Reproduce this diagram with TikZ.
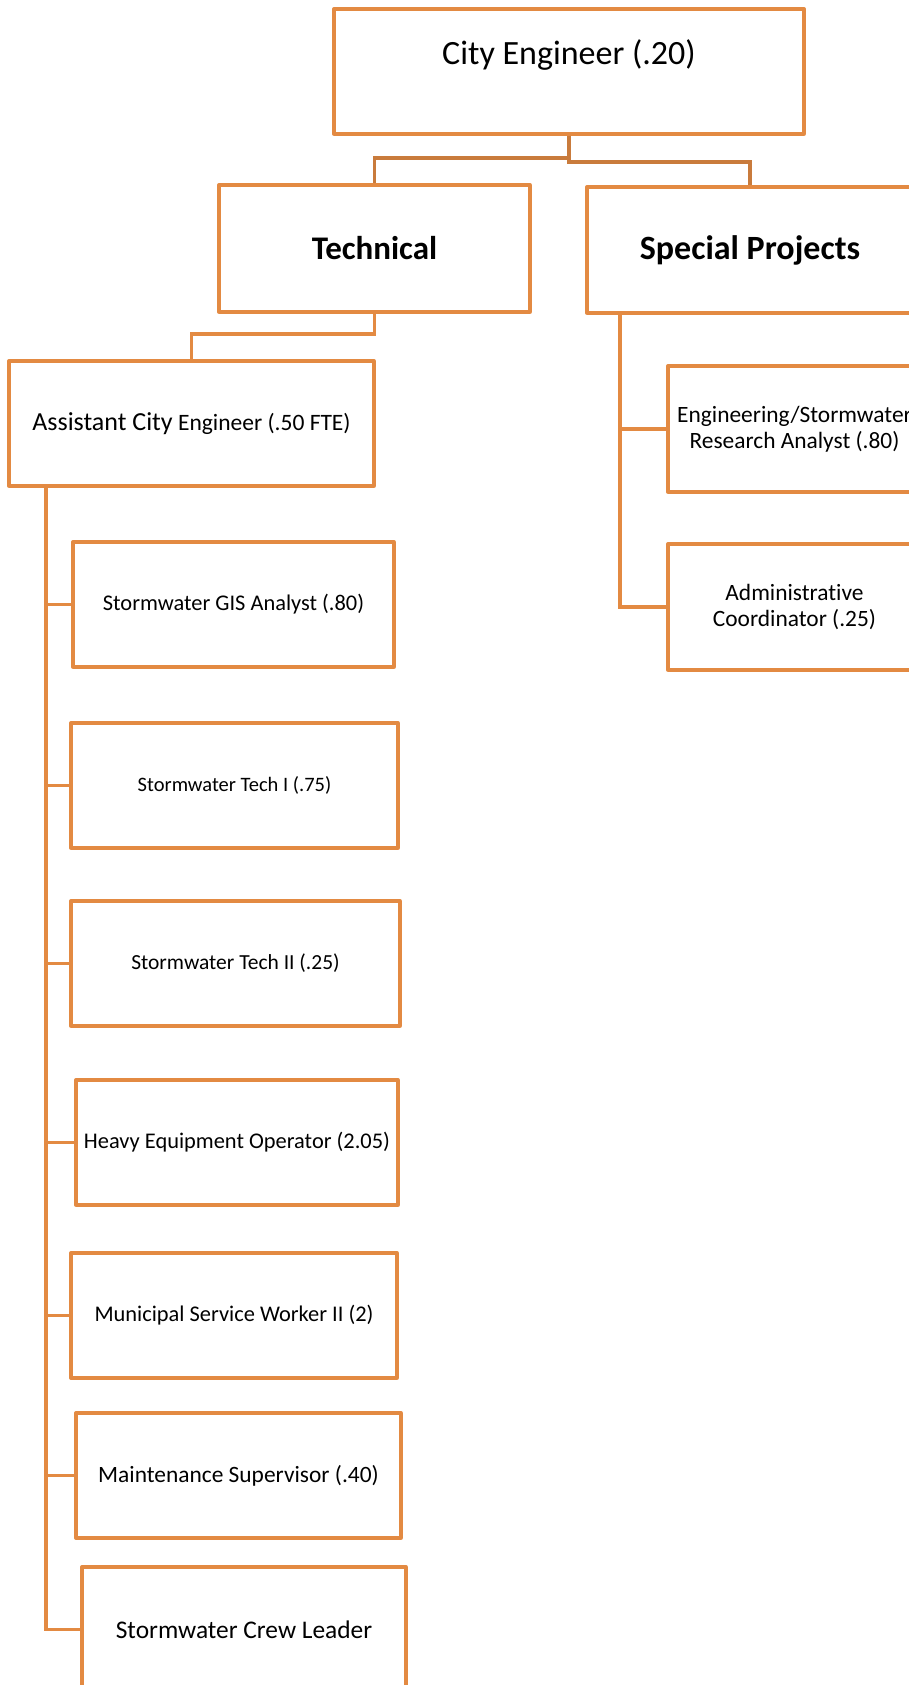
\documentclass[tikz,border=0pt]{standalone}
\usepackage{fontspec}
\setmainfont{Carlito}[Ligatures={NoCommon,NoContextual}]
\usepackage{tikz}

\definecolor{boxorange}{RGB}{227,138,66}
\definecolor{linkorange}{RGB}{201,123,60}

\newcommand{\boxfont}[2]{\fontsize{#1}{#2}\selectfont}

\tikzset{
  box/.style={draw=boxorange, line width=3.3pt, line join=round, fill=white,
    inner sep=2pt, align=center, minimum height=125pt},
  link/.style={draw=boxorange, line width=3.8pt},
}

\begin{document}
\begin{tikzpicture}[x=1pt, y=-1pt]
    \useasboundingbox (0,0) rectangle (909,1685);

    %Top box
    \node[box, minimum width=470pt, text height=25pt, text depth=38pt, font=\boxfont{34}{40}] (ce) at (569,71.5) {City Engineer (.20)};

    %Divisions
    \node[box, minimum width=311pt, minimum height=127pt, font=\boxfont{33}{40}\bfseries] (tech) at (374.5,248.5) {Technical};
    \node[box, minimum width=326pt, minimum height=126pt, font=\boxfont{34}{40}\bfseries] (sp) at (750,250) {Special Projects};

    \draw[link, draw=linkorange] (ce.south) -- ++(0,22) -| (tech.north); %Left branch
    \draw[link, draw=linkorange] (ce.south) -- ++(0,26) -| (sp.north); %Right branch

    %Technical side
    \node[box, minimum width=365pt, font=\boxfont{23.5}{28}] (ace) at (191.5,423.5) {{\boxfont{26}{30}Assistant City} Engineer (.50 FTE)};
    \draw[link] (tech.south) -- ++(0,20) -| (ace.north);

    \node[box, minimum width=321pt, font=\boxfont{22.4}{27}] (gis) at (233.5,604.5) {Stormwater GIS Analyst (.80)};
    \node[box, minimum width=327pt, font=\boxfont{20.5}{25}] (techone) at (234.5,785.5) {Stormwater Tech I (.75)};
    \node[box, minimum width=329pt, font=\boxfont{21.5}{26}] (techtwo) at (235.5,963.5) {Stormwater Tech II (.25)};
    \node[box, minimum width=322pt, font=\boxfont{22.4}{27}] (heo) at (237,1142.5) {Heavy Equipment Operator (2.05)};
    \node[box, minimum width=326pt, font=\boxfont{22.4}{27}] (msw) at (234,1315.5) {Municipal Service Worker II (2)};
    \node[box, minimum width=325pt, font=\boxfont{23.4}{28}] (ms) at (238.5,1475.5) {Maintenance Supervisor (.40)};
    \node[box, minimum width=324pt, font=\boxfont{25.4}{30}] (crew) at (244,1629.5) {Stormwater Crew Leader};

    %Left trunk
    \coordinate (trunk) at (46,0);
    \draw[link] (ace.south -| trunk) |- (gis.west);
    \draw[link] (ace.south -| trunk) |- (techone.west);
    \draw[link] (ace.south -| trunk) |- (techtwo.west);
    \draw[link] (ace.south -| trunk) |- (heo.west);
    \draw[link] (ace.south -| trunk) |- (msw.west);
    \draw[link] (ace.south -| trunk) |- (ms.west);
    \draw[link] (ace.south -| trunk) |- (crew.west);

    %Special Projects side
    \node[box, minimum width=253pt, minimum height=126pt, font=\boxfont{23.4}{26}] (era) at (794.5,429) {Engineering/Stormwater\\Research Analyst (.80)};
    \node[box, minimum width=253pt, minimum height=126pt, font=\boxfont{23.4}{26}] (adm) at (794.5,607) {Administrative\\Coordinator (.25)};

    \coordinate (sptrunk) at (620,0);
    \draw[link] (sp.south -| sptrunk) |- (era.west);
    \draw[link] (sp.south -| sptrunk) |- (adm.west);

\end{tikzpicture}
\end{document}
